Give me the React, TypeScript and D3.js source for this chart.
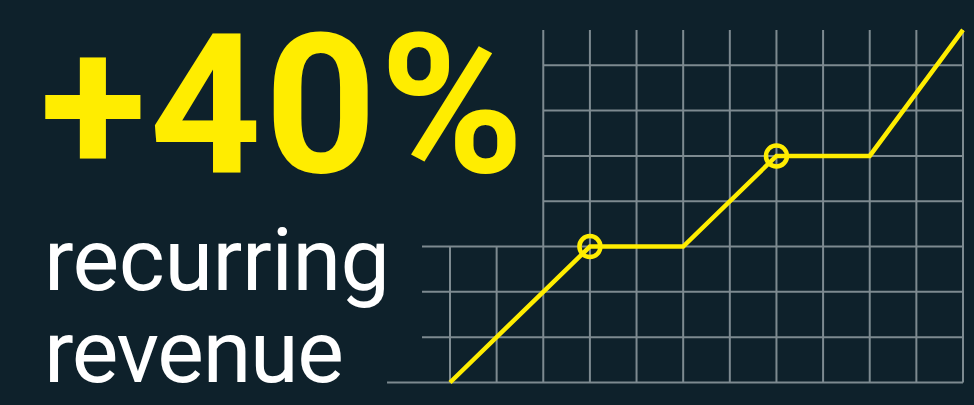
import React, { useEffect } from 'react';
import * as d3 from 'd3';

// grid columns / rows (in grid units)
const columns = [0, 1, 2, 3, 4, 5, 6, 7, 8, 9, 10, 11];
const rows = [0, 1, 2, 3, 4, 5, 6, 7];
// where each row line starts on the left, and where each column line stops at top
const rowStarts = [-1.35, -0.6, -0.6, -0.6, 2, 2, 2, 2];
const columnTops = [3, 3, 7.78, 7.78, 7.78, 7.78, 7.78, 7.78, 7.78, 7.78, 7.78, 7.78];

// revenue curve
const steps = [0, 3, 5, 7, 9, 11];
const revenue = [0, 3, 3, 5, 5, 7.78];
const milestones = [3, 7];

const headline = '+40%';
const caption = ['recurring', 'revenue'];

const W = 974;
const H = 405;
const BG = '#0e212b';
const YELLOW = '#ffed00';
const GRID = '#7d8a90';

const App: React.FC = () => {
  useEffect(() => {
    document.body.style.margin = '0';
    document.body.style.background = BG;
  }, []);

  const x = d3.scaleLinear().domain([0, 11]).range([450, 963]);
  const y = d3.scaleLinear().domain([0, 7]).range([382.5, 65.3]);

  const points = steps.map((s, i) => ({ s, v: revenue[i] }));
  const line = d3
    .line<{ s: number; v: number }>()
    .x((d) => x(d.s))
    .y((d) => y(d.v));

  return (
    <svg width={W} height={H} style={{ display: 'block' }}>
      <rect width={W} height={H} fill={BG} />

      <g stroke={GRID} strokeWidth={2}>
        {rows.map((r, i) => (
          <line key={'r' + r} x1={x(rowStarts[i])} x2={x(11)} y1={y(r)} y2={y(r)} />
        ))}
        {columns.map((c, i) => (
          <line key={'c' + c} x1={x(c)} x2={x(c)} y1={y(0)} y2={y(columnTops[i])} />
        ))}
      </g>

      <path d={line(points) || ''} fill="none" stroke={YELLOW} strokeWidth={4.5} strokeLinejoin="miter" />
      {milestones.map((m) => {
        const p = points.find((d) => d.s === m)!;
        return <circle key={m} cx={x(p.s)} cy={y(p.v)} r={10.5} fill="none" stroke={YELLOW} strokeWidth={4.5} />;
      })}

      <text
        x={40}
        y={172}
        fill={YELLOW}
        fontFamily="Roboto"
        fontWeight={700}
        fontSize={195}
        textLength={484}
        lengthAdjust="spacing"
      >
        {headline}
      </text>
      {caption.map((t, i) => (
        <text
          key={t}
          x={44}
          y={290 + i * 92}
          fill="#ffffff"
          fontFamily="Roboto"
          fontWeight={400}
          fontSize={88}
          textLength={i === 0 ? 346 : 300}
          lengthAdjust="spacing"
        >
          {t}
        </text>
      ))}
    </svg>
  );
};

export default App;
